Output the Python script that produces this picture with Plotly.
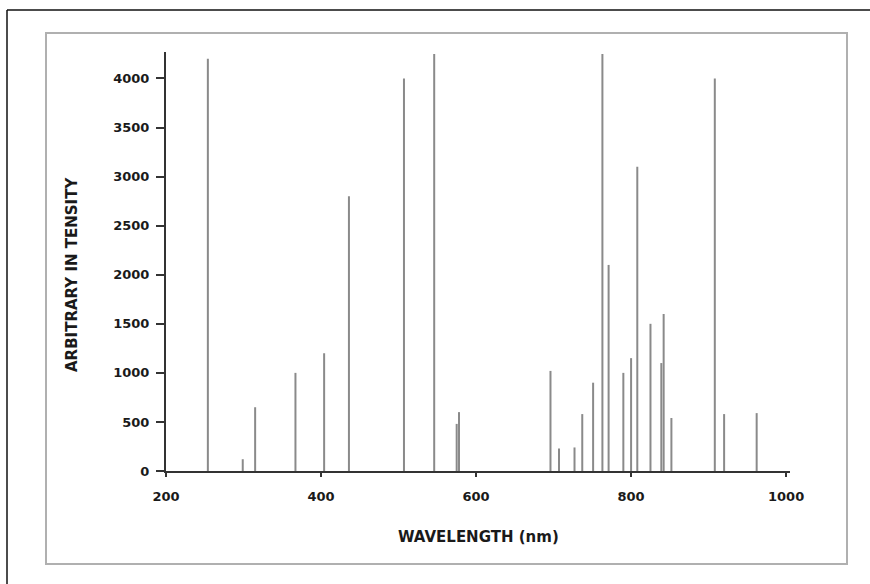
import plotly.graph_objects as go

# Spectral lines: wavelength (nm) and arbitrary intensity
wavelengths = [254, 299, 315, 367, 404, 436, 507, 546, 575, 578,
               696, 707, 727, 737, 751, 763, 771, 790, 800, 808,
               825, 839, 842, 852, 908, 920, 962]
intensities = [4200, 120, 650, 1000, 1200, 2800, 4000, 4250, 480, 600,
               1020, 230, 240, 580, 900, 4250, 2100, 1000, 1150, 3100,
               1500, 1100, 1600, 540, 4000, 580, 590]

x_ticks = [200, 400, 600, 800, 1000]
y_ticks = [0, 500, 1000, 1500, 2000, 2500, 3000, 3500, 4000]

W, H = 870, 584
L, R, T, B = 166, 80, 52, 113
pw, ph = W - L - R, H - T - B


def px(x):
    return (x - L) / pw


def py(y):
    return (H - B - y) / ph


# vertical stick segments built from the data (x, 0) -> (x, value)
seg_x, seg_y = [], []
for w, v in zip(wavelengths, intensities):
    seg_x += [w, w, None]
    seg_y += [0, v, None]

fig = go.Figure()
fig.add_trace(go.Scatter(
    x=seg_x, y=seg_y, mode="lines",
    line=dict(color="#8a8a8a", width=2),
    showlegend=False, hoverinfo="skip",
))

font = "DejaVu Sans"
fig.update_layout(
    width=W, height=H,
    margin=dict(l=L, r=R, t=T, b=B),
    paper_bgcolor="white", plot_bgcolor="white",
    xaxis=dict(
        range=[200, 1005], tickvals=x_ticks, ticktext=[str(v) for v in x_ticks],
        showline=True, linecolor="#333333", linewidth=2,
        ticks="outside", ticklen=4, tickwidth=1.5, tickcolor="#333333",
        showgrid=False, zeroline=False,
        tickfont=dict(family=font, size=13, color="#1a1a1a", weight="bold"),
        ticklabelstandoff=8,
    ),
    yaxis=dict(
        range=[0, 4270], tickvals=y_ticks, ticktext=[str(v) for v in y_ticks],
        showline=True, linecolor="#333333", linewidth=2,
        ticks="outside", ticklen=8, tickwidth=1.5, tickcolor="#333333",
        showgrid=False, zeroline=False,
        tickfont=dict(family=font, size=13, color="#1a1a1a", weight="bold"),
        ticklabelstandoff=4,
    ),
    annotations=[
        dict(text="<b>WAVELENGTH (nm)</b>", xref="paper", yref="paper",
             x=px(478), y=py(537), showarrow=False,
             font=dict(family=font, size=15, color="#1a1a1a"),
             xanchor="center", yanchor="middle"),
        dict(text="<b>ARBITRARY IN TENSITY</b>", xref="paper", yref="paper",
             x=px(72), y=py(275), showarrow=False, textangle=-90,
             font=dict(family=font, size=15, color="#1a1a1a"),
             xanchor="center", yanchor="middle"),
    ],
    shapes=[
        # inner grey frame
        dict(type="rect", xref="paper", yref="paper",
             x0=px(46), x1=px(847), y0=py(564), y1=py(33),
             line=dict(color="#b0b0b0", width=2), layer="below"),
        # outer black frame (left and top edges)
        dict(type="line", xref="paper", yref="paper",
             x0=px(7), x1=px(7), y0=py(10), y1=py(584),
             line=dict(color="#111111", width=1.5)),
        dict(type="line", xref="paper", yref="paper",
             x0=px(7), x1=px(870), y0=py(10), y1=py(10),
             line=dict(color="#111111", width=1.5)),
    ],
)

fig.write_html(
    "out.html",
    config={"displayModeBar": False},
    post_script="document.body.style.margin='0';document.body.style.overflow='hidden';",
)
